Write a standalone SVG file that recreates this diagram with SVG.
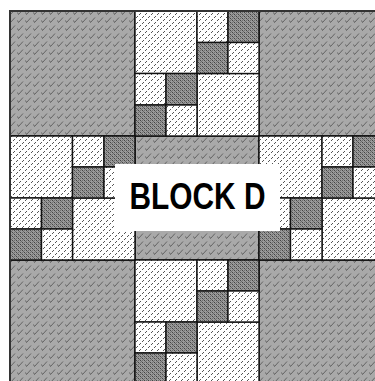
<svg xmlns="http://www.w3.org/2000/svg" width="375" height="381" viewBox="0 0 375 381">
  <defs>
    <pattern id="hatch" width="8" height="8" patternUnits="userSpaceOnUse">
      <rect width="8" height="8" fill="#a9a9a9"/>
      <path d="M1.5 4.5 L2.5 6.5 L7 1.5" fill="none" stroke="#5a5a5a" stroke-width="0.9"/>
    </pattern>
    <pattern id="dots" width="6" height="6" patternUnits="userSpaceOnUse">
      <rect width="6" height="6" fill="#fff"/>
      <rect x="1" y="2" width="1" height="1" fill="#555"/>
      <rect x="2" y="1" width="1" height="1" fill="#555"/>
      <rect x="4" y="5" width="1" height="1" fill="#555"/>
      <rect x="5" y="4" width="1" height="1" fill="#555"/>
    </pattern>
    <pattern id="check" width="4" height="4" patternUnits="userSpaceOnUse">
      <rect width="4" height="4" fill="#9a9a9a"/>
      <rect x="0" y="0" width="1" height="1" fill="#444"/>
      <rect x="2" y="2" width="1" height="1" fill="#444"/>
      <rect x="1" y="1" width="1" height="1" fill="#6a6a6a"/>
      <rect x="3" y="3" width="1" height="1" fill="#6a6a6a"/>
      <rect x="2" y="0" width="1" height="1" fill="#707070"/>
      <rect x="0" y="2" width="1" height="1" fill="#707070"/>
    </pattern>
  </defs>
  <style>
    .big { fill: url(#hatch); stroke: #111; stroke-width: 1.6; }
    .lt { fill: url(#dots); stroke: #111; stroke-width: 1.4; }
    .dk { fill: url(#check); stroke: #111; stroke-width: 1.4; }
    .lbl { font-family: "Liberation Sans", Arial, sans-serif; font-weight: bold; font-size: 36px; fill: #000; }
  </style>
  <rect width="375" height="381" fill="#fff"/>

  <g id="corner-tl"><rect class="big" x="10" y="11" width="125" height="125"/></g>
  <g id="corner-tr"><rect class="big" x="259" y="11" width="125" height="125"/></g>
  <g id="corner-bl"><rect class="big" x="10" y="260" width="125" height="125"/></g>
  <g id="corner-br"><rect class="big" x="259" y="260" width="125" height="125"/></g>
  <g id="center"><rect class="big" x="135" y="136" width="124" height="124"/></g>

  <g id="edge-top">
    <rect class="lt" x="135" y="11" width="62" height="62.5"/>
    <rect class="lt" x="197" y="73.5" width="62" height="62.5"/>
    <rect class="lt" x="197" y="11" width="31" height="31.5"/>
    <rect class="dk" x="228" y="11" width="31" height="31.5"/>
    <rect class="dk" x="197" y="42.5" width="31" height="31"/>
    <rect class="lt" x="228" y="42.5" width="31" height="31"/>
    <rect class="lt" x="135" y="73.5" width="31" height="31.5"/>
    <rect class="dk" x="166" y="73.5" width="31" height="31.5"/>
    <rect class="dk" x="135" y="105" width="31" height="31"/>
    <rect class="lt" x="166" y="105" width="31" height="31"/>
  </g>

  <g id="edge-bottom">
    <rect class="lt" x="135" y="260" width="62" height="62"/>
    <rect class="lt" x="197" y="322" width="62" height="62"/>
    <rect class="lt" x="197" y="260" width="31" height="31"/>
    <rect class="dk" x="228" y="260" width="31" height="31"/>
    <rect class="dk" x="197" y="291" width="31" height="31"/>
    <rect class="lt" x="228" y="291" width="31" height="31"/>
    <rect class="lt" x="135" y="322" width="31" height="31"/>
    <rect class="dk" x="166" y="322" width="31" height="31"/>
    <rect class="dk" x="135" y="353" width="31" height="31"/>
    <rect class="lt" x="166" y="353" width="31" height="31"/>
  </g>

  <g id="edge-left">
    <rect class="lt" x="10" y="136" width="62.5" height="62"/>
    <rect class="lt" x="72.5" y="198" width="62.5" height="62"/>
    <rect class="lt" x="72.5" y="136" width="31.5" height="31"/>
    <rect class="dk" x="104" y="136" width="31" height="31"/>
    <rect class="dk" x="72.5" y="167" width="31.5" height="31"/>
    <rect class="lt" x="104" y="167" width="31" height="31"/>
    <rect class="lt" x="10" y="198" width="31.5" height="31"/>
    <rect class="dk" x="41.5" y="198" width="31" height="31"/>
    <rect class="dk" x="10" y="229" width="31.5" height="31"/>
    <rect class="lt" x="41.5" y="229" width="31" height="31"/>
  </g>

  <g id="edge-right">
    <rect class="lt" x="259" y="136" width="63" height="62"/>
    <rect class="lt" x="322" y="198" width="62" height="62"/>
    <rect class="lt" x="322" y="136" width="31" height="31"/>
    <rect class="dk" x="353" y="136" width="31" height="31"/>
    <rect class="dk" x="322" y="167" width="31" height="31"/>
    <rect class="lt" x="353" y="167" width="31" height="31"/>
    <rect class="lt" x="259" y="198" width="31.5" height="31"/>
    <rect class="dk" x="290.5" y="198" width="31.5" height="31"/>
    <rect class="dk" x="259" y="229" width="31.5" height="31"/>
    <rect class="lt" x="290.5" y="229" width="31.5" height="31"/>
  </g>

  <rect x="10" y="11" width="374" height="374" fill="none" stroke="#333" stroke-width="2"/>

  <g id="label">
    <rect x="115" y="164" width="165" height="67" fill="#fff"/>
    <text class="lbl" x="197.5" y="208.5" text-anchor="middle" textLength="136" lengthAdjust="spacingAndGlyphs">BLOCK D</text>
  </g>
</svg>
